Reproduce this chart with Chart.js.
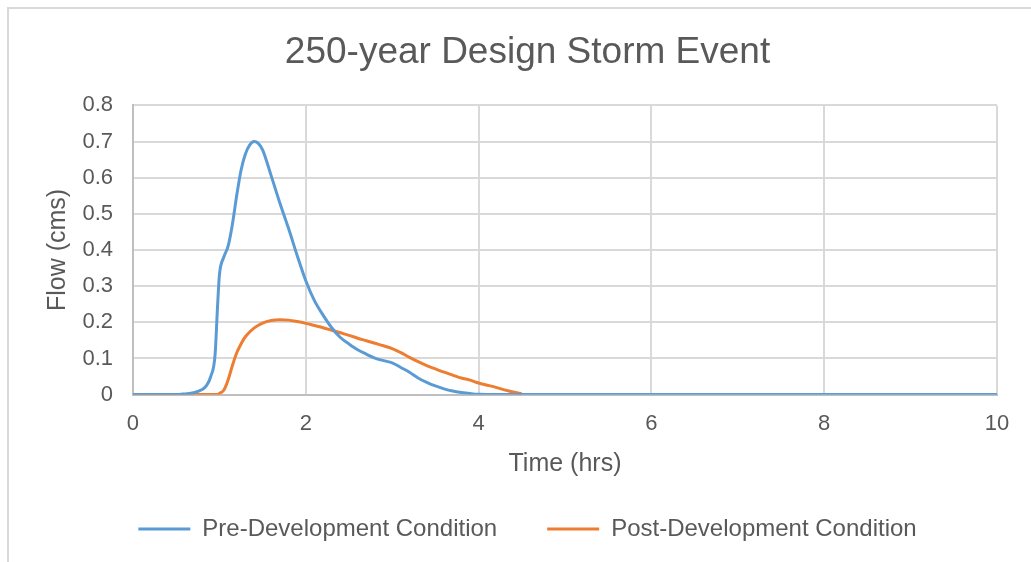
<!DOCTYPE html>
<html lang="en">
  <head>
    <meta charset="UTF-8" />
    <title>250-year Design Storm Event</title>
    <script src="https://cdn.jsdelivr.net/npm/chart.js"></script>
    <style>
      html, body { margin: 0; padding: 0; background: #fff; }
      #wrap { position: relative; width: 1031px; height: 562px; }
      #frame {
        position: absolute; left: 7px; top: 7px; right: -4px; bottom: -4px;
        border-top: 2px solid #d9d9d9; border-left: 2px solid #d9d9d9;
        pointer-events: none;
      }
    </style>
  </head>
  <body>
    <div id="wrap">
      <canvas id="stormChart" width="1031" height="562"></canvas>
      <div id="frame"></div>
    </div>

    <script>
      // === Data (time in hrs, flow in cms) ===
      const preTime = [0, 0.5, 0.6, 0.7, 0.8, 0.85, 0.9, 0.95, 0.98, 1.0, 1.05, 1.1, 1.15, 1.2, 1.25, 1.3, 1.35, 1.4, 1.45, 1.5,
        1.6, 1.7, 1.8, 1.9, 2.0, 2.1, 2.2, 2.3, 2.4, 2.5, 2.6, 2.7, 2.8, 2.9, 3.0, 3.1, 3.2, 3.3, 3.4, 3.5,
        3.6, 3.7, 3.8, 3.9, 4.0, 4.5, 5, 6, 7, 8, 9, 10];
      const preFlow = [0, 0, 0.002, 0.005, 0.014, 0.025, 0.05, 0.11, 0.25, 0.33, 0.38, 0.41, 0.47, 0.55, 0.62, 0.665, 0.69, 0.70, 0.695, 0.677,
        0.605, 0.53, 0.46, 0.385, 0.315, 0.26, 0.22, 0.185, 0.158, 0.14, 0.124, 0.112, 0.101, 0.094, 0.088, 0.075, 0.062, 0.046, 0.034, 0.024,
        0.016, 0.01, 0.006, 0.003, 0.001, 0, 0, 0, 0, 0, 0, 0];

      const postTime = [0, 0.9, 0.97, 1.0, 1.05, 1.1, 1.15, 1.2, 1.25, 1.3, 1.4, 1.5, 1.6, 1.7, 1.8, 1.9, 2.0,
        2.1, 2.2, 2.3, 2.4, 2.5, 2.6, 2.7, 2.8, 2.9, 3.0, 3.1, 3.2, 3.3, 3.4, 3.5, 3.6, 3.7, 3.8, 3.9, 4.0,
        4.1, 4.2, 4.3, 4.4, 4.5];
      const postFlow = [0, 0, 0, 0.003, 0.012, 0.04, 0.08, 0.115, 0.14, 0.16, 0.184, 0.198, 0.205, 0.207, 0.206, 0.202, 0.197,
        0.191, 0.185, 0.178, 0.171, 0.164, 0.156, 0.149, 0.142, 0.135, 0.127, 0.116, 0.103, 0.091, 0.08, 0.071, 0.062, 0.054, 0.046, 0.04, 0.032,
        0.026, 0.02, 0.013, 0.007, 0.002];

      const xTicks = [0, 2, 4, 6, 8, 10];
      const yMax = 0.8;

      const toPoints = (xs, ys) => xs.map((x, i) => ({ x: x, y: ys[i] }));
      const font = "'Liberation Sans', Arial, sans-serif";
      const textColor = "#595959";

      new Chart(document.getElementById("stormChart"), {
        type: "line",
        data: {
          datasets: [
            {
              label: "Pre-Development Condition",
              data: toPoints(preTime, preFlow),
              borderColor: "#5b9bd5",
              backgroundColor: "#5b9bd5",
              borderWidth: 3,
              pointRadius: 0,
              pointStyle: "line",
              cubicInterpolationMode: "monotone",
            },
            {
              label: "Post-Development Condition",
              data: toPoints(postTime, postFlow),
              borderColor: "#ed7d31",
              backgroundColor: "#ed7d31",
              borderWidth: 3,
              pointRadius: 0,
              pointStyle: "line",
              cubicInterpolationMode: "monotone",
            },
          ],
        },
        options: {
          responsive: false,
          animation: false,
          layout: { padding: { top: 14, right: 34, bottom: 11, left: 58 } },
          plugins: {
            title: {
              display: true,
              text: "250-year Design Storm Event",
              color: textColor,
              font: { family: font, size: 37, weight: "normal" },
              padding: { top: 17, bottom: 30 },
            },
            legend: {
              position: "bottom",
              labels: {
                usePointStyle: true,
                pointStyleWidth: 52,
                color: textColor,
                font: { family: font, size: 24 },
                padding: 50,
              },
            },
            tooltip: { enabled: false },
          },
          scales: {
            x: {
              type: "linear",
              min: 0,
              max: 10,
              afterBuildTicks: (axis) => {
                axis.ticks = xTicks.map((v) => ({ value: v }));
              },
              grid: { color: "#d9d9d9", lineWidth: 2, drawTicks: false },
              border: { color: "#bfbfbf", width: 2 },
              ticks: { color: textColor, font: { family: font, size: 22 }, padding: 16 },
              title: {
                display: true,
                text: "Time (hrs)",
                color: textColor,
                font: { family: font, size: 25 },
                padding: { top: -4, bottom: -12 },
              },
            },
            y: {
              min: 0,
              max: yMax,
              ticks: { stepSize: 0.1, color: textColor, font: { family: font, size: 22 }, padding: 20 },
              grid: { color: "#d9d9d9", lineWidth: 2, drawTicks: false },
              border: { color: "#bfbfbf", width: 2 },
              title: {
                display: true,
                text: "Flow (cms)",
                color: textColor,
                font: { family: font, size: 25 },
                padding: { top: -15, bottom: -10.6 },
              },
            },
          },
        },
      });
    </script>
  </body>
</html>
